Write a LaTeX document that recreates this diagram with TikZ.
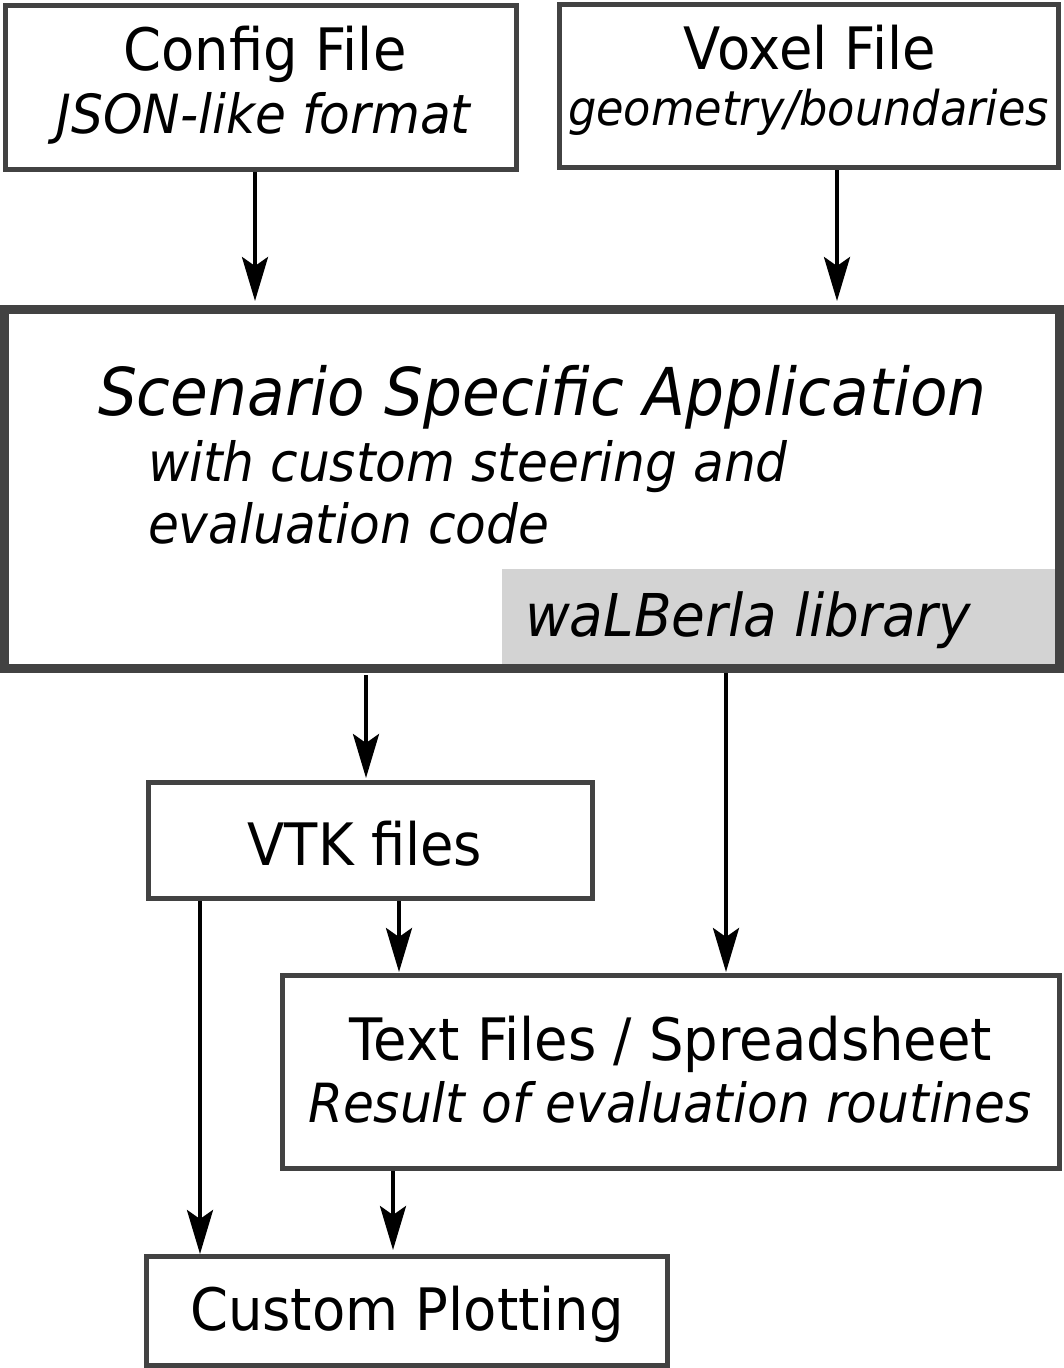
\documentclass[tikz,border=0pt]{standalone}
\usepackage{fontspec}
\setmainfont{DejaVu Sans}[FakeStretch=0.93]
\usetikzlibrary{arrows.meta}
\definecolor{bordergray}{RGB}{66,66,66}
\definecolor{libgray}{RGB}{211,211,211}
\tikzset{
  box/.style={draw=bordergray, line width=5pt, fill=white, inner sep=0pt},
  bigbox/.style={draw=bordergray, line width=9pt, fill=white, inner sep=0pt},
  libbox/.style={fill=libgray, draw=none, inner sep=0pt},
  arr/.style={draw=black, line width=4pt, -{Stealth[length=44pt,width=26pt,inset=9pt]}},
  txt/.style={anchor=base, inner sep=0pt, outer sep=0pt},
  txtl/.style={anchor=base west, inner sep=0pt, outer sep=0pt},
  big/.style={font=\fontsize{58.5}{70}\selectfont},
  sub/.style={font=\fontsize{54}{64}\selectfont\itshape},
}
\begin{document}
\begin{tikzpicture}[x=1pt,y=-1pt]
\useasboundingbox (0,0) rectangle (1064,1368);

% boxes
\node[box, minimum width=511pt, minimum height=164pt] (cfg) at (261,87.5) {};
\node[box, minimum width=499pt, minimum height=163pt] (vox) at (809,86) {};
\node[bigbox, minimum width=1055pt, minimum height=359pt] (app) at (532,489) {};
\node[libbox, minimum width=553pt, minimum height=95pt] (lib) at (778.5,616.5) {};
\node[box, minimum width=444pt, minimum height=116pt] (vtk) at (370.5,840.5) {};
\node[box, minimum width=777pt, minimum height=193pt] (txtf) at (671,1072) {};
\node[box, minimum width=521pt, minimum height=109pt] (plot) at (407,1311) {};

% texts
\node[txt, big] (cfgT) at (265,70) {Config File};
\node[txt, sub] (cfgS) at (263.5,133) {JSON-like format};
\node[txt, big] (voxT) at (810,69) {Voxel File};
\node[txt, font=\fontsize{48}{58}\selectfont\itshape] (voxS) at (808.5,125) {geometry/boundaries};
\node[txtl, font=\fontsize{66}{78}\selectfont\itshape] (appT) at (98,415) {Scenario Specific Application};
\node[txtl, sub] (appS1) at (148,481) {with custom steering and};
\node[txtl, sub] (appS2) at (148,543) {evaluation code};
\node[txtl, font=\fontsize{59}{70}\selectfont\itshape] (libT) at (525,636) {waLBerla library};
\node[txt, big] (vtkT) at (365,865) {VTK files};
\node[txt, big] (txtT) at (671,1060) {Text Files / Spreadsheet};
\node[txt, sub] (txtS) at (670,1122) {Result of evaluation routines};
\node[txt, big] (plotT) at (407,1330) {Custom Plotting};

% connectors
\draw[arr, shorten >=4pt] (cfg.south -| 255,0) -- (app.north -| 255,0);
\draw[arr, shorten >=4pt] (vox.south -| 837,0) -- (app.north -| 837,0);
\draw[arr, shorten <=2pt, shorten >=2pt] (app.south -| 366,0) -- (vtk.north -| 366,0);
\draw[arr, shorten >=1pt] (app.south -| 726,0) -- (txtf.north -| 726,0);
\draw[arr, shorten >=1pt] (vtk.south -| 399,0) -- (txtf.north -| 399,0);
\draw[arr] (vtk.south -| 200,0) -- (plot.north -| 200,0);
\draw[arr, shorten >=4pt] (txtf.south -| 393,0) -- (plot.north -| 393,0);
\end{tikzpicture}
\end{document}
